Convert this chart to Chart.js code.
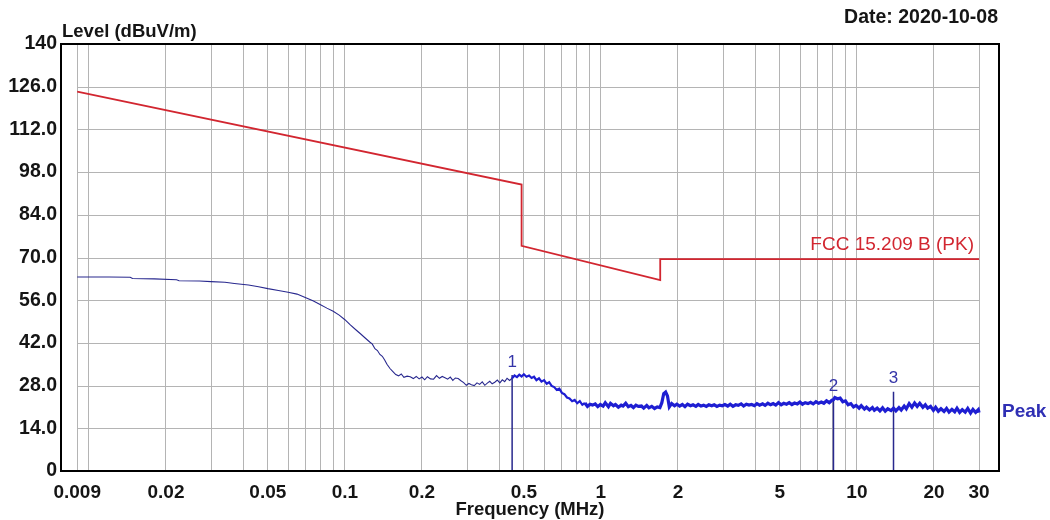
<!DOCTYPE html>
<html><head><meta charset="utf-8">
<script src="https://cdn.jsdelivr.net/npm/chart.js@4.4.0/dist/chart.umd.min.js"></script>
<style>html,body{margin:0;padding:0;background:#fff}canvas{display:block}</style>
</head><body>
<canvas id="c" width="1050" height="520"></canvas>
<script>
// ---- data ----
const peakFreq = [0.009,0.010,0.012,0.0145,0.0148,0.018,0.022,0.0225,0.027,0.030,0.034,0.037,0.042,0.046,0.050,0.055,0.060,0.065,0.070,0.075,0.080,0.085,0.090,0.095,0.100,0.105,0.110,0.115,0.120,0.125,0.128,0.131,0.134,0.137,0.140,0.143,0.146,0.150,0.154,0.158,0.162,0.166,0.170,0.175,0.180,0.185,0.190,0.195,0.200,0.205,0.210,0.216,0.222,0.228,0.234,0.240,0.246,0.252,0.258,0.264,0.270,0.277,0.284,0.291,0.298,0.305,0.312,0.320,0.328,0.336,0.344,0.352,0.360,0.368,0.376,0.385,0.394,0.403,0.412,0.421,0.430,0.440,0.450,0.460,0.470,0.480,0.490,0.500,0.512,0.524,0.536,0.548,0.560,0.573,0.586,0.600,0.614,0.628,0.642,0.657,0.672,0.688,0.704,0.720,0.737,0.754,0.772,0.790,0.808,0.827,0.846,0.866,0.886,0.907,0.928,0.950,0.972,0.995,1.02,1.04,1.07,1.09,1.12,1.14,1.17,1.20,1.22,1.25,1.28,1.31,1.34,1.37,1.40,1.44,1.47,1.51,1.54,1.58,1.62,1.66,1.70,1.73,1.76,1.79,1.82,1.85,1.89,1.94,1.98,2.03,2.08,2.13,2.18,2.24,2.29,2.35,2.40,2.46,2.52,2.58,2.64,2.71,2.77,2.84,2.91,2.98,3.05,3.13,3.20,3.28,3.36,3.44,3.53,3.61,3.70,3.79,3.88,3.98,4.07,4.17,4.28,4.38,4.49,4.60,4.71,4.82,4.94,5.06,5.18,5.31,5.44,5.57,5.71,5.85,5.99,6.13,6.28,6.44,6.59,6.75,6.92,7.09,7.26,7.43,7.61,7.80,7.99,8.10,8.20,8.40,8.60,8.81,9.02,9.24,9.47,9.70,9.93,10.2,10.4,10.7,10.9,11.2,11.5,11.7,12.0,12.3,12.6,12.9,13.2,13.6,13.9,14.2,14.6,14.9,15.3,15.6,16.0,16.4,16.8,17.2,17.6,18.1,18.5,18.9,19.4,19.9,20.3,20.8,21.3,21.9,22.4,22.9,23.5,24.1,24.6,25.2,25.8,26.5,27.1,27.8,28.4,29.1,29.8,30.0];
const peakLevel = [63.6,63.6,63.6,63.5,63.1,63.0,62.7,62.4,62.3,62.1,61.9,61.5,61.0,60.4,59.8,59.2,58.6,58.0,56.9,55.8,54.6,53.4,52.4,51.1,49.6,47.9,46.4,45.0,43.6,42.3,41.6,40.1,39.5,38.2,37.6,36.4,35.0,33.6,32.6,31.6,31.2,31.8,30.7,31.1,30.9,30.3,31.0,30.2,30.8,29.9,30.9,30.2,30.1,31.3,30.4,31.0,30.6,30.1,30.8,29.7,30.5,30.3,29.6,29.0,28.1,28.7,28.3,28.0,28.9,28.4,29.2,28.1,28.8,29.4,28.6,29.1,29.8,28.9,29.9,29.3,30.4,29.7,30.4,31.3,30.8,31.6,31.0,31.7,30.9,31.3,30.5,30.9,29.8,30.4,29.3,29.8,28.6,29.1,27.9,27.5,26.6,27.0,25.6,25.2,24.1,23.8,22.9,23.3,22.2,22.9,21.7,22.3,21.2,21.9,21.6,22.0,21.1,21.8,21.3,22.4,21.1,22.2,21.4,21.8,20.9,21.6,21.3,22.2,21.1,21.5,20.8,21.6,21.2,21.3,20.6,21.5,20.7,21.2,20.5,21.0,20.8,22.4,25.4,25.9,24.6,21.0,22.1,21.4,21.9,21.3,21.8,21.1,21.9,21.4,21.7,21.2,21.8,21.3,21.6,21.2,21.7,21.4,21.7,21.2,21.6,21.4,21.8,21.3,21.9,21.2,21.7,21.5,22.0,21.3,21.9,21.6,21.8,21.4,22.1,21.6,22.0,21.5,22.2,21.7,22.1,21.6,22.4,21.7,22.2,21.9,22.4,21.8,22.3,22.0,22.6,21.9,22.4,22.1,22.5,22.0,22.7,22.2,22.6,22.2,23.0,22.4,23.2,23.4,24.1,23.7,23.9,22.7,23.0,21.7,22.1,21.0,21.5,20.6,21.4,20.3,20.9,20.0,20.8,19.9,20.6,19.7,20.7,19.6,20.4,19.8,20.6,19.7,20.8,20.0,21.3,20.4,22.1,20.9,22.3,21.2,22.2,20.9,21.7,20.6,21.2,19.9,20.9,19.6,20.4,19.5,20.5,19.3,20.2,19.4,20.6,19.2,20.1,19.3,20.5,19.0,20.2,19.2,20.1,19.1,20.3,19.0,19.9,19.4];
const limitFreq = [0.009, 0.49, 0.49, 1.705, 1.705, 30];
const limitLevel = [124.4, 93.9, 73.8, 62.6, 69.5, 69.5];
const markerFreq = [0.45, 8.1, 13.9];
const markerLevel = [31.5, 23.6, 26.0];
const markerNames = ['1', '2', '3'];
const xTickValues = [0.009,0.01,0.02,0.03,0.04,0.05,0.06,0.07,0.08,0.09,0.1,0.2,0.3,0.4,0.5,0.6,0.7,0.8,0.9,1,2,3,4,5,6,7,8,9,10,20,30];
const xTickLabels = ['0.009','0.02','0.05','0.1','0.2','0.5','1','2','5','10','20','30'];
const yTickValues = [0,14,28,42,56,70,84,98,112,126,140];
const xTitle = 'Frequency (MHz)';
const yTitle = 'Level (dBuV/m)';
const dateText = 'Date: 2020-10-08';
const limitName = 'FCC 15.209 B (PK)';
const traceName = 'Peak';

// ---- styles ----
const FONT = '"Liberation Sans", Arial, sans-serif';
const TXT = '#151515';
const GRID = '#b4b4b4';
const RED = '#d22630';
const NAVY = '#28288e';
const BLUE = '#1e1ed2';

const peakData = peakFreq.map((f, i) => ({x: f, y: peakLevel[i]}));
const limitData = limitFreq.map((f, i) => ({x: f, y: limitLevel[i]}));
const markerData = [];
markerFreq.forEach((f, i) => {
  markerData.push({x: f, y: 0}, {x: f, y: markerLevel[i]}, {x: f, y: null});
});

const decorPlugin = {
  id: 'decor',
  beforeDatasetsDraw(chart) {
    const {ctx, scales: {x, y}} = chart;
    ctx.save();
    ctx.strokeStyle = GRID;
    ctx.lineWidth = 1;
    const x0 = Math.round(x.getPixelForValue(xTickValues[0]));
    const x1 = Math.round(x.getPixelForValue(xTickValues[xTickValues.length - 1]));
    yTickValues.forEach(v => {
      if (v === 0 || v === 140) return;
      const py = Math.round(y.getPixelForValue(v)) + 0.5;
      ctx.beginPath(); ctx.moveTo(x0, py); ctx.lineTo(x1, py); ctx.stroke();
    });
    ctx.restore();
  },
  afterDatasetsDraw(chart) {
    const {ctx, chartArea: a, scales: {x, y}} = chart;
    ctx.save();
    ctx.strokeStyle = '#000';
    ctx.lineWidth = 2;
    ctx.strokeRect(a.left, a.top, a.right - a.left, a.bottom - a.top);
    ctx.fillStyle = TXT;
    ctx.textBaseline = 'middle';
    ctx.font = 'bold 18.5px ' + FONT;
    ctx.textAlign = 'left';
    ctx.fillText(yTitle, a.left + 1, 32);
    ctx.font = 'bold 19.5px ' + FONT;
    ctx.textAlign = 'right';
    ctx.fillText(dateText, 998, 18);
    ctx.font = 'bold 18.5px ' + FONT;
    ctx.textAlign = 'center';
    ctx.fillText(xTitle, (a.left + a.right) / 2, 510);
    ctx.fillStyle = RED;
    ctx.font = '19px ' + FONT;
    ctx.textAlign = 'right';
    ctx.fillText(limitName, x.getPixelForValue(30) - 5, y.getPixelForValue(limitLevel[limitLevel.length - 1]) - 14);
    ctx.fillStyle = '#2f2fb4';
    ctx.font = 'bold 19px ' + FONT;
    ctx.textAlign = 'left';
    ctx.fillText(traceName, a.right + 3, y.getPixelForValue(peakLevel[peakLevel.length - 1]));
    ctx.fillStyle = '#3434a8';
    ctx.font = '17px ' + FONT;
    ctx.textAlign = 'center';
    markerFreq.forEach((f, i) => {
      ctx.fillText(markerNames[i], x.getPixelForValue(f), y.getPixelForValue(markerLevel[i]) - 13);
    });
    ctx.restore();
  }
};

new Chart(document.getElementById('c'), {
  type: 'line',
  data: {
    datasets: [
      {data: limitData, borderColor: RED, borderWidth: 1.8, pointRadius: 0, tension: 0, order: 2},
      {data: markerData, borderColor: NAVY, borderWidth: 1.5, pointRadius: 0, tension: 0, spanGaps: false, order: 1},
      {
        data: peakData, pointRadius: 0, tension: 0, order: 0,
        borderColor: NAVY, borderWidth: 1,
        segment: {
          borderColor: c => c.p0.parsed.x >= 0.45 ? BLUE : NAVY,
          borderWidth: c => c.p0.parsed.x >= 0.85 ? 3.2 : (c.p0.parsed.x >= 0.45 ? 2.2 : 1.1)
        }
      }
    ]
  },
  options: {
    responsive: false,
    animation: false,
    devicePixelRatio: 1,
    layout: {padding: {top: 44, right: 51, left: 0, bottom: 0}},
    plugins: {legend: {display: false}, tooltip: {enabled: false}},
    scales: {
      x: {
        type: 'logarithmic',
        min: 0.00778, max: 35.9,
        afterBuildTicks: s => { s.ticks = xTickValues.map(v => ({value: v})); },
        afterFit: s => { s.height = 49; },
        grid: {color: GRID, drawTicks: false, lineWidth: 1},
        border: {display: false},
        ticks: {
          autoSkip: false, maxRotation: 0, padding: 10,
          color: TXT, font: {family: FONT, size: 19, weight: 'bold'},
          callback: v => {
            const s = String(+v.toPrecision(3));
            return xTickLabels.includes(s) ? s : '';
          }
        }
      },
      y: {
        min: 0, max: 140,
        afterBuildTicks: s => { s.ticks = yTickValues.map(v => ({value: v})); },
        afterFit: s => { s.width = 61; },
        grid: {display: false, drawTicks: false},
        border: {display: false},
        ticks: {
          padding: 4, color: TXT, font: {family: FONT, size: 19.5, weight: 'bold'},
          callback: v => (v === 0 || v === 140) ? String(v) : v.toFixed(1)
        }
      }
    }
  },
  plugins: [decorPlugin]
});
</script>
</body></html>
